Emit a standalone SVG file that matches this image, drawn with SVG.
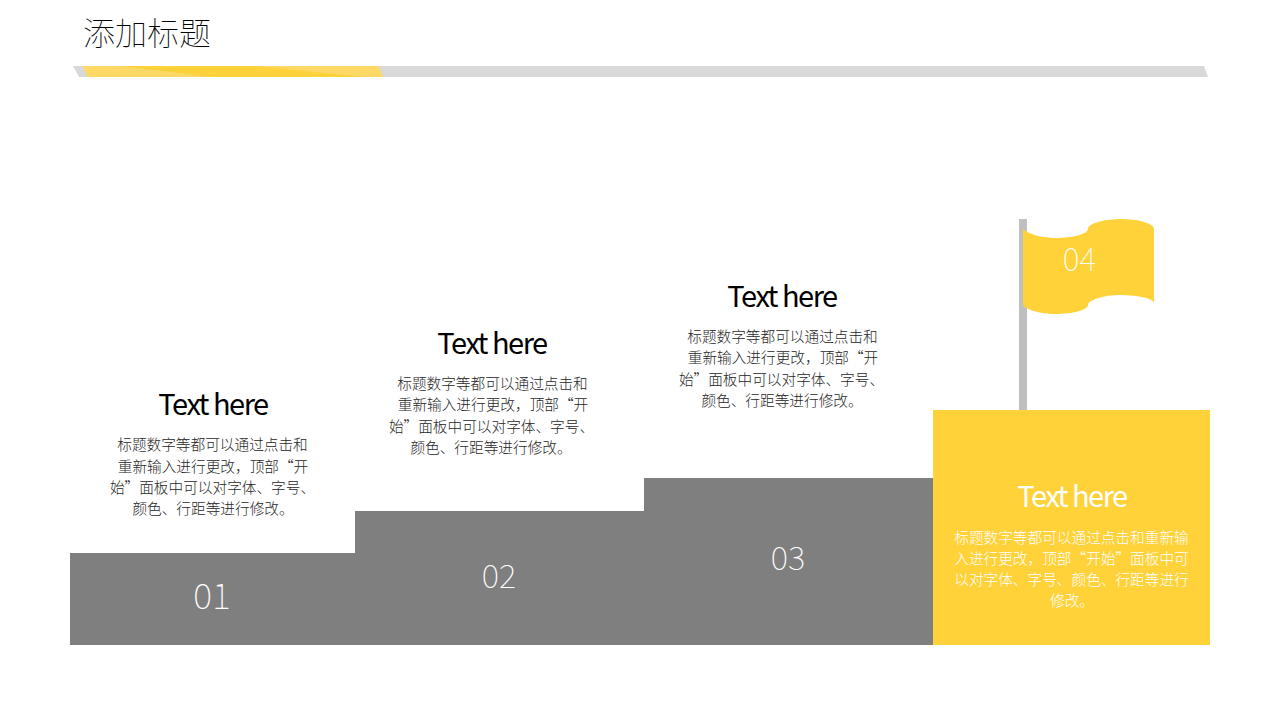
<svg xmlns="http://www.w3.org/2000/svg" width="1280" height="720" viewBox="0 0 1280 720">
<style>
text{font-family:"Noto Sans CJK SC","Noto Sans",sans-serif;text-anchor:middle}
.h{font-size:29px;font-weight:400;letter-spacing:-1.5px;fill:#000}
.b{font-size:14.67px;font-weight:200;fill:#262626}
.n{font-size:36px;font-weight:100;fill:#fff}
.g{fill:#7f7f7f}
.y{fill:#ffd23a}
.l{fill:#ffd966}
</style>
<rect width="1280" height="720" fill="#fff"/>
<g id="header">
<text x="147" y="45" style="font-size:32px;font-weight:100;fill:#000">添加标题</text>
<polygon points="73,66 1204,66 1208,77 79,77" fill="#d9d9d9"/>
<polygon class="y" points="83,66 378,66 383,77 88,77"/>
<polygon class="l" points="83,66 120,66 212,77 88,77"/>
<polygon class="l" points="257,66 378,66 383,77 363,77"/>
</g>
<g id="step1">
<rect class="g" x="70" y="553" width="285" height="92"/>
<text class="n" x="212" y="609">01</text>
<text class="h" x="213" y="415">Text here</text>
<text class="b" x="212.500" y="450">标题数字等都可以通过点击和</text>
<text class="b" x="213" y="472">重新输入进行更改，顶部“开</text>
<text class="b" x="212.500" y="493">始”面板中可以对字体、字号、</text>
<text class="b" x="213" y="514">颜色、行距等进行修改。</text>
</g>
<g id="step2">
<rect class="g" x="355" y="511" width="289" height="134"/>
<text class="n" x="499" y="588" style="font-size:33px">02</text>
<text class="h" x="492" y="354">Text here</text>
<text class="b" x="492.500" y="389">标题数字等都可以通过点击和</text>
<text class="b" x="493" y="410">重新输入进行更改，顶部“开</text>
<text class="b" x="491.500" y="432">始”面板中可以对字体、字号、</text>
<text class="b" x="491" y="453">颜色、行距等进行修改。</text>
</g>
<g id="step3">
<rect class="g" x="644" y="478" width="289" height="167"/>
<text class="n" x="788" y="570" style="font-size:33px">03</text>
<text class="h" x="782" y="307">Text here</text>
<text class="b" x="782.500" y="342">标题数字等都可以通过点击和</text>
<text class="b" x="783" y="363">重新输入进行更改，顶部“开</text>
<text class="b" x="781.500" y="385">始”面板中可以对字体、字号、</text>
<text class="b" x="782" y="406">颜色、行距等进行修改。</text>
</g>
<g id="step4">
<rect x="1019" y="219" width="8" height="192" fill="#bfbfbf"/>
<rect class="y" x="933" y="410" width="277" height="235"/>
<path class="y" d="M1023,229 C1030,236 1048,238 1056,238 C1072,238 1088,234 1088,229 C1088,223 1106,219 1121,219 C1137,219 1154,223 1154,229 L1154,303 C1154,299 1138,295 1121,295 C1104,295 1088,300 1088,305 C1088,310 1072,314 1056,314 C1040,314 1023,309 1023,304 Z"/>
<text class="n" x="1079.500" y="271" style="font-size:32px">04</text>
<text class="h" x="1072" y="507" style="fill:#fff">Text here</text>
<text class="b" x="1071.500" y="543" style="fill:#fff">标题数字等都可以通过点击和重新输</text>
<text class="b" x="1071.500" y="564" style="fill:#fff">入进行更改，顶部“开始”面板中可</text>
<text class="b" x="1071.500" y="585" style="fill:#fff">以对字体、字号、颜色、行距等进行</text>
<text class="b" x="1072" y="606" style="fill:#fff">修改。</text>
</g>
</svg>
